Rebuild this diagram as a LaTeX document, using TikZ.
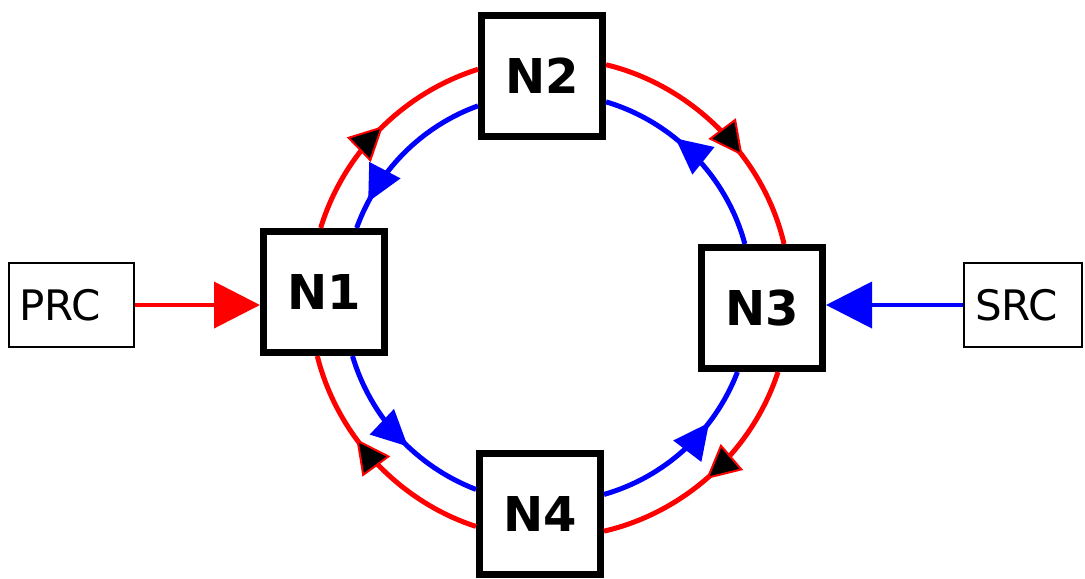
\documentclass[tikz,border=0pt]{standalone}
\usepackage{fontspec}
\setmainfont{DejaVu Sans}
\usetikzlibrary{arrows.meta, decorations.markings}

\tikzset{
  ringnode/.style={draw=black, fill=white, line width=3.5pt, minimum size=60.5pt,
    inner sep=0pt, font=\bfseries\fontsize{24}{28}\selectfont},
  srcnode/.style={draw=black, line width=1pt, minimum height=42pt, inner sep=0pt,
    align=left, font=\fontsize{21}{25}\selectfont},
  redlink/.style={draw=red, line width=2.5pt, looseness=0.9, postaction={decorate},
    decoration={markings, mark=at position #1 with
      {\arrow{Triangle[length=17pt,width=17pt,fill=black,line width=1pt]}}}},
  bluelink/.style={draw=blue, line width=2.5pt, looseness=0.9, postaction={decorate},
    decoration={markings, mark=at position #1 with
      {\arrow{Triangle[length=18pt,width=17pt]}}}},
  feed/.style={line width=2pt, -{Triangle[length=23pt,width=23pt]}}
}

\begin{document}
\begin{tikzpicture}[x=0.5pt, y=-0.5pt]
  \useasboundingbox (0,0) rectangle (1085,578);
  % ring nodes
  \node[ringnode] (N1) at (324,292) {N1};
  \node[ringnode] (N2) at (542,76)  {N2};
  \node[ringnode] (N3) at (762,308) {N3};
  \node[ringnode] (N4) at (540,514) {N4};
  % sources
  \node[srcnode, minimum width=62.5pt, text width=52pt] (PRC) at (71.5,305) {PRC};
  \node[srcnode, minimum width=59pt, text width=48pt] (SRC) at (1023,305) {SRC};
  % outer ring, clockwise
  \draw[redlink=0.52] (N1.93)  to[out=73, in=197.5] (N2.174);
  \draw[redlink=0.63] (N2.10)  to[out=-13.5, in=103] (N3.71);
  \draw[redlink=0.53] (N3.-76) to[out=-108, in=13]   (N4.-15);
  \draw[redlink=0.62] (N4.191) to[out=162, in=-76]   (N1.-96);
  % inner ring, counter-clockwise
  \draw[bluelink=0.84] (N2.205) to[out=200, in=70]     (N1.63);
  \draw[bluelink=0.57] (N1.-66) to[out=-73.5, in=159]  (N4.159);
  \draw[bluelink=0.69] (N4.17)  to[out=16, in=-111]    (N3.-111);
  \draw[bluelink=0.62] (N3.105) to[out=105, in=-16.5]  (N2.-22);
  % feeds
  \draw[feed, red]  (PRC.east) -- (PRC.east -| N1.west);
  \draw[feed, blue] (SRC.west) -- (SRC.west -| N3.east);
\end{tikzpicture}
\end{document}
